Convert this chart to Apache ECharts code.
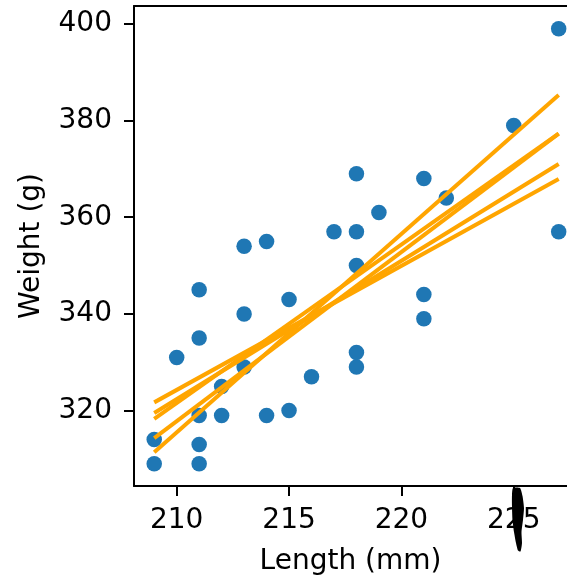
<!DOCTYPE html>
<html>
<head>
<meta charset="utf-8">
<script src="https://cdn.jsdelivr.net/npm/echarts@6/dist/echarts.min.js"></script>
<style>
  html, body { margin: 0; padding: 0; background: #fff; }
  #chart { width: 567px; height: 581px; }
</style>
</head>
<body>
<div id="chart"></div>
<script>
// Fish measurements: body length (mm) and weight (g)
const lengths = [209, 209, 210, 211, 211, 211, 211, 211, 212, 212, 213, 213, 213, 214, 214, 215,
                 215, 216, 217, 218, 218, 218, 218, 218, 219, 221, 221, 221, 222, 225, 227, 227];
const weights = [309, 314, 331, 309, 313, 319, 335, 345, 319, 325, 329, 340, 354, 319, 355, 320,
                 343, 327, 357, 329, 332, 350, 357, 369, 361, 339, 344, 368, 364, 379, 357, 399];

// Fitted regression lines (resampled fits), evaluated at both ends of the length range
const fitStartX = 209;
const fitEndX = 227;
const fitStartY = [311.4, 314.3, 318.3, 319.5, 321.7];
const fitEndY   = [385.3, 377.3, 377.3, 371.0, 367.9];

// Axis ticks
const xTicks = [210, 215, 220, 225];
const yTicks = [320, 340, 360, 380, 400];

const font = 'DejaVu Sans';
const points = lengths.map((x, i) => [x, weights[i]]);
const xRange = [208.1, 227.37];   // view window; the right spine lies just outside it
const yRange = [304.4, 403.7];

const fitSeries = fitStartY.map((y0, i) => ({
  type: 'line',
  data: [[fitStartX, y0], [fitEndX, fitEndY[i]]],
  showSymbol: false,
  symbol: 'none',
  lineStyle: { color: '#FFA500', width: 4 },
  z: 3,
  silent: true,
  animation: false
}));

const spine = { show: true, onZero: false, lineStyle: { color: '#000', width: 2 } };

const chart = echarts.init(document.getElementById('chart'), null, { renderer: 'canvas' });
chart.setOption({
  animation: false,
  backgroundColor: '#ffffff',
  grid: { left: 134, top: 6, right: 0, bottom: 92, show: false },
  xAxis: [
    {
      type: 'value',
      min: xRange[0], max: xRange[1],
      name: 'Length (mm)',
      nameLocation: 'middle',
      nameGap: 62,
      nameTextStyle: { fontFamily: font, fontSize: 28, color: '#000' },
      axisLine: spine,
      axisTick: { show: true, length: 10, lineStyle: { color: '#000', width: 2 }, customValues: xTicks },
      axisLabel: { fontFamily: font, fontSize: 28, color: '#000', margin: 21, customValues: xTicks },
      splitLine: { show: false }
    },
    {
      // top spine
      type: 'value',
      position: 'top',
      min: xRange[0], max: xRange[1],
      axisLine: spine,
      axisTick: { show: false },
      axisLabel: { show: false },
      splitLine: { show: false }
    }
  ],
  yAxis: {
    type: 'value',
    min: yRange[0], max: yRange[1],
    name: 'Weight (g)',
    nameLocation: 'middle',
    nameGap: 88,
    nameTextStyle: { fontFamily: font, fontSize: 28, color: '#000' },
    axisLine: spine,
    axisTick: { show: true, length: 10, lineStyle: { color: '#000', width: 2 }, customValues: yTicks },
    axisLabel: { fontFamily: font, fontSize: 28, color: '#000', margin: 22, customValues: yTicks },
    splitLine: { show: false }
  },
  series: [
    {
      type: 'scatter',
      data: points,
      symbol: 'circle',
      symbolSize: 15.5,
      itemStyle: { color: '#1f77b4', opacity: 1 },
      clip: false,
      z: 2,
      silent: true
    },
    ...fitSeries
  ],
  graphic: [
    {
      // ink smudge over the lower axis
      type: 'polygon',
      z: 100,
      shape: {
        points: [[513, 488], [520, 488], [522.5, 496], [524, 508], [523, 520], [521.5, 532], [522, 543],
                 [520.5, 551.5], [518, 550.5], [516, 543], [514, 532], [512.5, 520], [512, 506], [512, 495]],
        smooth: 0.2
      },
      style: { fill: '#000' }
    }
  ]
});
</script>
</body>
</html>
